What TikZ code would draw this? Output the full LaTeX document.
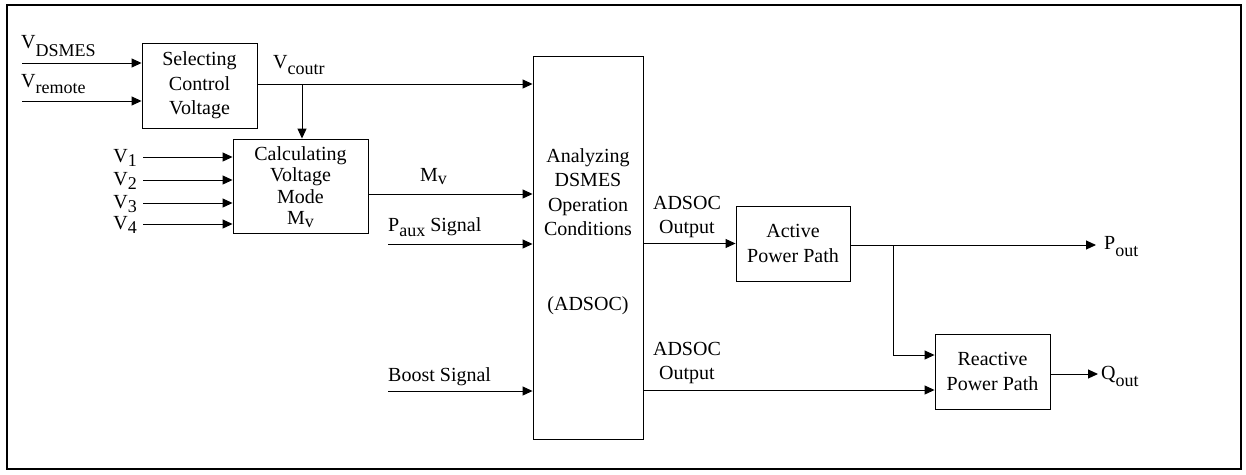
\documentclass[tikz,border=0pt]{standalone}
\usepackage{fontspec}
\setmainfont{Liberation Serif}
\usetikzlibrary{arrows.meta}
% subscript set nearly at full size and dropped below the baseline
\newcommand\subtxt[2]{\raisebox{-#1}{\fontsize{18}{18}\selectfont #2}}
\tikzset{
  blk/.style={draw, line width=0.9pt, align=center, inner sep=0pt},
  txt/.style={inner sep=0pt, align=center},
  lbl/.style={inner sep=0pt, anchor=base west},
  sig/.style={line width=1pt, -{Triangle[length=10pt,width=9pt]}},
  wire/.style={line width=1pt},
}
\begin{document}
\begin{tikzpicture}[x=1pt, y=-1pt, font=\fontsize{20}{24.5}\selectfont]
\useasboundingbox (0,0) rectangle (1246,474);
% frame
\draw[line width=2pt] (7,5) rectangle (1241,469);

% blocks
\node[blk, minimum width=115pt, minimum height=85pt] (sel) at (199.5,85.5) {Selecting\\Control\\Voltage};
\node[blk, minimum width=135pt, minimum height=94pt] (calc) at (300.5,186) {};
\node[txt, font=\fontsize{20}{21.5}\selectfont] (calctxt) at (300.5,187) {Calculating\\Voltage\\Mode\\M\subtxt{3pt}{v}};
\node[blk, minimum width=110pt, minimum height=383pt] (adsoc) at (588,247.5) {};
\node[txt] (adsoctxt) at (588,192) {Analyzing\\DSMES\\Operation\\Conditions};
\node[txt] (adsocabbr) at (588,306) {(ADSOC)};
\node[blk, minimum width=114pt, minimum height=75pt] (act) at (793,243.5) {Active\\Power Path};
\node[blk, minimum width=115pt, minimum height=75pt] (rea) at (992.5,371.5) {Reactive\\Power Path};

% voltage selection inputs
\coordinate (vd) at (22,63);
\coordinate (vr) at (22,101);
\node[lbl] (lvd) at (21,48) {V\subtxt{8pt}{DSMES}};
\node[lbl] (lvr) at (21,87) {V\subtxt{6pt}{remote}};
\draw[sig] (vd) -- (vd -| sel.west);
\draw[sig] (vr) -- (vr -| sel.west);

% control voltage
\coordinate (vcs) at (257,84);
\coordinate (vc) at (302,84);
\node[lbl] (lvc) at (273,68) {V\subtxt{6pt}{coutr}};
\draw[wire] (vcs -| sel.east) -- (vc);
\draw[sig] (vc) -- (vc -| adsoc.west);
\draw[sig] (vc) -- (vc |- calc.north);

% voltage measurements
\foreach \i/\y in {1/157,2/180,3/203,4/224}{
  \coordinate (v\i) at (143,\y);
  \node[inner sep=0pt, anchor=base east] (lv\i) at (137,\y+5) {V\subtxt{4pt}{\i}};
  \draw[sig] (v\i) -- (v\i -| calc.west);
}

% signals into ADSOC
\coordinate (mv) at (368,194);
\node[lbl] (lmv) at (420,181) {M\subtxt{3pt}{v}};
\draw[sig] (mv -| calc.east) -- (mv -| adsoc.west);
\coordinate (pa) at (388,244);
\node[lbl] (lpa) at (388,231) {P\subtxt{5pt}{aux} Signal};
\draw[sig] (pa) -- (pa -| adsoc.west);
\coordinate (bs) at (388,391);
\node[lbl] (lbs) at (388,381) {Boost Signal};
\draw[sig] (bs) -- (bs -| adsoc.west);

% ADSOC outputs
\node[txt] (lo1) at (687,217) {ADSOC\\Output};
\node[txt] (lo2) at (687,363) {ADSOC\\Output};
\draw[sig] (act.west -| adsoc.east) -- (act.west);
\coordinate (o2) at (643,390);
\draw[sig] (o2 -| adsoc.east) -- (o2 -| rea.west);

% power paths
\coordinate (br) at (893,245);
\coordinate (pend) at (1096,245);
\node[lbl] (lp) at (1104,249) {P\subtxt{7pt}{out}};
\draw[wire] (br -| act.east) -- (br);
\draw[sig] (br) -- (pend);
\coordinate (brd) at (893,355);
\draw[sig] (br) -- (brd) -- (brd -| rea.west);
\coordinate (qs) at (1050,374);
\coordinate (qend) at (1098,374);
\node[lbl] (lq) at (1101,379) {Q\subtxt{7pt}{out}};
\draw[sig] (qs -| rea.east) -- (qend);
\end{tikzpicture}
\end{document}
